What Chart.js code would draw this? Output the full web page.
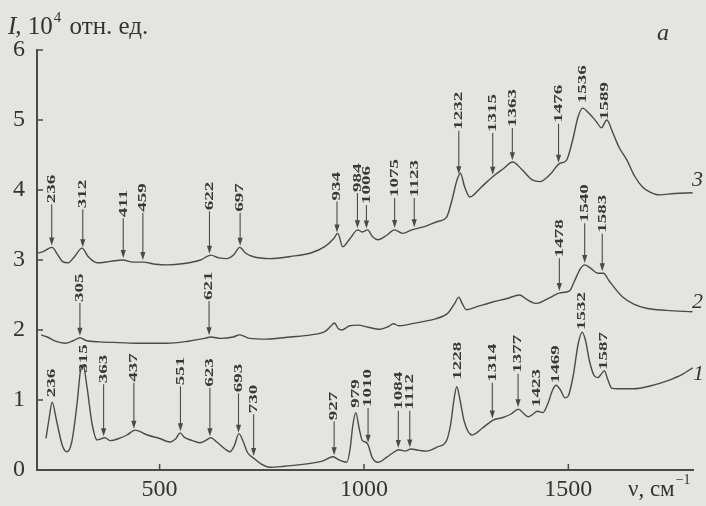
<!DOCTYPE html>
<html>
<head>
<meta charset="utf-8">
<script src="https://cdn.jsdelivr.net/npm/chart.js@4.4.1/dist/chart.umd.min.js"></script>
<style>
  html, body { margin: 0; padding: 0; background: #e4e4e2; }
  #wrap { width: 706px; height: 506px; position: relative; }
</style>
</head>
<body>
<div id="wrap"><canvas id="spectre"></canvas></div>
<script>
// curve 1
const nu1 = [222, 230, 237, 248, 262, 273, 285, 298, 306, 313, 322, 335, 347, 366, 380, 400, 420, 440, 470, 500,
  525, 540, 550, 560, 580, 598, 612, 625, 640, 660, 672, 683, 694, 705, 715, 730, 750, 770, 800, 850,
  900, 924, 940, 958, 966, 973, 980, 988, 996, 1004, 1010, 1020, 1034, 1055, 1072, 1085, 1100, 1115, 1135, 1153,
  1180, 1202, 1212, 1220, 1227, 1235, 1245, 1264, 1290, 1315, 1340, 1360, 1378, 1392, 1402, 1414, 1424, 1438, 1450, 1462,
  1470, 1480, 1492, 1500, 1512, 1524, 1534, 1542, 1552, 1563, 1572, 1582, 1588, 1596, 1606, 1620, 1660, 1700, 1740, 1780, 1804];
const int1 = [0.45, 0.75, 0.97, 0.7, 0.35, 0.26, 0.4, 0.95, 1.4, 1.5, 1.2, 0.65, 0.43, 0.46, 0.42, 0.45, 0.5, 0.57, 0.5, 0.45,
  0.4, 0.45, 0.53, 0.47, 0.42, 0.39, 0.42, 0.46, 0.4, 0.3, 0.26, 0.35, 0.52, 0.4, 0.25, 0.17, 0.08, 0.04, 0.05, 0.08,
  0.13, 0.19, 0.14, 0.11, 0.3, 0.65, 0.82, 0.6, 0.42, 0.4, 0.36, 0.18, 0.11, 0.18, 0.25, 0.29, 0.27, 0.3, 0.28, 0.27,
  0.33, 0.42, 0.65, 1.0, 1.19, 1.0, 0.7, 0.5, 0.6, 0.71, 0.75, 0.8, 0.87, 0.8, 0.76, 0.8, 0.84, 0.82, 0.95, 1.15,
  1.21, 1.15, 1.03, 1.06, 1.35, 1.8, 1.97, 1.85, 1.55, 1.35, 1.32, 1.38, 1.42, 1.3, 1.17, 1.16, 1.16, 1.2, 1.27, 1.37, 1.46];

// curve 2
const nu2 = [210, 225, 245, 268, 290, 305, 320, 354, 400, 450, 518, 570, 610, 625, 650, 680, 696, 720, 762, 820,
  870, 905, 918, 928, 937, 945, 965, 985, 1010, 1038, 1060, 1072, 1085, 1110, 1144, 1175, 1205, 1222, 1232, 1240,
  1251, 1280, 1315, 1350, 1381, 1400, 1422, 1454, 1479, 1503, 1515, 1530, 1540, 1555, 1572, 1586, 1600, 1633, 1660, 1691,
  1740, 1804];
const int2 = [1.93, 1.9, 1.84, 1.81, 1.85, 1.89, 1.85, 1.83, 1.82, 1.81, 1.81, 1.84, 1.88, 1.9, 1.88, 1.9, 1.93, 1.88, 1.87, 1.9,
  1.93, 1.98, 2.05, 2.1, 2.02, 2.0, 2.06, 2.07, 2.04, 2.01, 2.05, 2.09, 2.06, 2.08, 2.12, 2.16, 2.24, 2.38, 2.47, 2.38,
  2.29, 2.34, 2.4, 2.45, 2.5, 2.43, 2.38, 2.46, 2.53, 2.56, 2.7, 2.88, 2.93, 2.88, 2.81, 2.81, 2.7, 2.47, 2.37, 2.31,
  2.28, 2.26];

// curve 3
const nu3 = [203, 215, 237, 250, 262, 276, 292, 310, 325, 347, 380, 410, 435, 459, 490, 518, 560, 600, 625, 645,
  664, 682, 696, 710, 728, 770, 820, 870, 904, 925, 936, 948, 965, 985, 996, 1009, 1020, 1034, 1055, 1075,
  1095, 1117, 1150, 1180, 1202, 1215, 1228, 1236, 1246, 1259, 1285, 1315, 1340, 1364, 1385, 1413, 1430, 1455, 1479, 1495,
  1510, 1524, 1535, 1550, 1568, 1581, 1594, 1610, 1625, 1643, 1662, 1682, 1700, 1723, 1760, 1804];
const int3 = [3.1, 3.12, 3.18, 3.08, 2.98, 2.96, 3.05, 3.17, 3.05, 2.96, 2.98, 3.0, 2.97, 2.97, 2.94, 2.93, 2.95, 3.0, 3.07, 3.03,
  3.02, 3.08, 3.18, 3.1, 3.05, 3.02, 3.05, 3.1, 3.19, 3.3, 3.38, 3.19, 3.3, 3.43, 3.4, 3.43, 3.34, 3.29, 3.35, 3.43,
  3.38, 3.43, 3.48, 3.55, 3.61, 3.85, 4.15, 4.24, 4.05, 3.9, 4.03, 4.19, 4.3, 4.4, 4.3, 4.14, 4.12, 4.22, 4.38, 4.42,
  4.7, 5.05, 5.17, 5.1, 4.98, 4.89, 5.0, 4.8, 4.6, 4.43, 4.2, 4.04, 3.97, 3.93, 3.95, 3.96];

// peak marks: wavenumber, label bottom (intensity), arrow or not
const peaks1 = [236, 315, 363, 437, 551, 623, 693, 730, 927, 979, 1010, 1084, 1112, 1228, 1314, 1377, 1423, 1469, 1532, 1587];
const base1 = [1.04, 1.39, 1.24, 1.26, 1.21, 1.19, 1.11, 0.81, 0.71, 0.89, 0.9, 0.86, 0.86, 1.29, 1.26, 1.39, 0.9, 1.24, 2.0, 1.43];
const arrow1 = [0, 0, 1, 1, 1, 1, 1, 1, 1, 0, 1, 1, 1, 0, 1, 1, 0, 0, 0, 0];

const peaks2 = [305, 621, 1478, 1540, 1583];
const base2 = [2.4, 2.43, 3.04, 3.54, 3.39];
const arrow2 = [1, 1, 1, 1, 1];

const peaks3 = [236, 312, 411, 459, 622, 697, 934, 984, 1006, 1075, 1123, 1232, 1315, 1363, 1476, 1536, 1589];
const base3 = [3.81, 3.74, 3.61, 3.69, 3.71, 3.69, 3.85, 3.97, 3.8, 3.9, 3.9, 4.86, 4.83, 4.9, 4.96, 5.24, 5.0];
const arrow3 = [1, 1, 1, 1, 1, 1, 1, 1, 1, 1, 1, 1, 1, 1, 1, 0, 0];

const yTicks = [0, 1, 2, 3, 4, 5, 6];
const xTicks = [500, 1000, 1500];

const ink = '#4a4a4a';
const serif = "'Liberation Serif', 'DejaVu Serif', serif";

function pts(nu, val) {
  return nu.map((v, i) => ({ x: v, y: val[i] }));
}

function interp(nu, val, x) {
  for (let i = 1; i < nu.length; i++) {
    if (x <= nu[i]) {
      const t = (x - nu[i - 1]) / (nu[i] - nu[i - 1]);
      return val[i - 1] + t * (val[i] - val[i - 1]);
    }
  }
  return val[val.length - 1];
}

const marks = [
  { nu: nu1, val: int1, peaks: peaks1, base: base1, arrow: arrow1 },
  { nu: nu2, val: int2, peaks: peaks2, base: base2, arrow: arrow2 },
  { nu: nu3, val: int3, peaks: peaks3, base: base3, arrow: arrow3 },
];

const decor = {
  id: 'decor',
  beforeDraw(chart) {
    const c = chart.ctx;
    c.save();
    c.fillStyle = '#e4e4e2';
    c.fillRect(0, 0, chart.width, chart.height);
    c.restore();
  },
  afterDraw(chart) {
    const c = chart.ctx;
    const xs = chart.scales.x, ys = chart.scales.y;
    const area = chart.chartArea;
    c.save();
    c.strokeStyle = ink;
    c.fillStyle = ink;

    // inner ticks
    c.lineWidth = 1.5;
    yTicks.forEach(v => {
      const py = ys.getPixelForValue(v);
      c.beginPath(); c.moveTo(area.left, py); c.lineTo(area.left + 6, py); c.stroke();
    });
    xTicks.forEach(v => {
      const px = xs.getPixelForValue(v);
      c.beginPath(); c.moveTo(px, area.bottom); c.lineTo(px, area.bottom - 6); c.stroke();
    });

    // peak labels and arrows
    marks.forEach(m => {
      m.peaks.forEach((p, i) => {
        const px = xs.getPixelForValue(p);
        const pb = ys.getPixelForValue(m.base[i]);
        if (m.arrow[i]) {
          const tip = ys.getPixelForValue(interp(m.nu, m.val, p)) - 2;
          c.lineWidth = 1.1;
          c.beginPath(); c.moveTo(px, pb + 1); c.lineTo(px, tip - 6); c.stroke();
          c.beginPath();
          c.moveTo(px, tip); c.lineTo(px - 2.6, tip - 8); c.lineTo(px + 2.6, tip - 8);
          c.closePath(); c.fill();
        }
        c.save();
        c.translate(px, pb);
        c.rotate(-Math.PI / 2);
        c.scale(1, 0.68);
        c.font = 'bold 19px ' + serif;
        c.textAlign = 'left';
        c.textBaseline = 'middle';
        c.fillStyle = '#383838';
        c.fillText(String(p), 0, 0);
        c.restore();
      });
    });

    // axis title
    c.fillStyle = '#333';
    c.textBaseline = 'alphabetic';
    c.textAlign = 'left';
    let tx = 8;
    c.font = 'italic 25px ' + serif;
    c.fillText('I', tx, 34); tx += c.measureText('I').width;
    c.font = '25px ' + serif;
    c.fillText(', 10', tx - 1, 34); tx += c.measureText(', 10').width - 1;
    c.font = '15px ' + serif;
    c.fillText('4', tx + 1, 22); tx += c.measureText('4').width + 3;
    c.font = '25px ' + serif;
    c.fillText(' отн. ед.', tx, 34);

    // x title
    c.font = '23px ' + serif;
    c.fillText('ν, см', 628, 496);
    const w = c.measureText('ν, см').width;
    c.font = '14px ' + serif;
    c.fillText('−1', 628 + w + 1, 484);

    // panel letter and curve numbers
    c.font = 'italic 24px ' + serif;
    c.fillText('a', 657, 40);
    c.font = 'italic 22px ' + serif;
    c.fillText('3', 692, 186);
    c.fillText('2', 692, 308);
    c.fillText('1', 693, 380);
    c.restore();
  }
};

const lineStyle = {
  borderColor: ink,
  borderWidth: 1.4,
  pointRadius: 0,
  fill: false,
  cubicInterpolationMode: 'monotone',
};

new Chart(document.getElementById('spectre'), {
  type: 'line',
  data: {
    datasets: [
      { label: '1', data: pts(nu1, int1), ...lineStyle },
      { label: '2', data: pts(nu2, int2), ...lineStyle },
      { label: '3', data: pts(nu3, int3), ...lineStyle },
    ],
  },
  options: {
    responsive: true,
    maintainAspectRatio: false,
    animation: false,
    layout: { padding: { top: 50, right: 13, left: 0, bottom: 0 } },
    plugins: { legend: { display: false }, tooltip: { enabled: false } },
    scales: {
      x: {
        type: 'linear',
        min: 200,
        max: 1805,
        afterFit(s) { s.height = 36; },
        afterBuildTicks(s) { s.ticks = xTicks.map(v => ({ value: v })); },
        grid: { display: false, drawTicks: false },
        border: { display: true, color: ink, width: 2 },
        ticks: { font: { family: serif, size: 24 }, color: '#333', padding: 5, maxRotation: 0, callback: v => String(v) },
      },
      y: {
        min: 0,
        max: 6,
        afterFit(s) { s.width = 37; },
        afterBuildTicks(s) { s.ticks = yTicks.map(v => ({ value: v })); },
        grid: { display: false, drawTicks: false },
        border: { display: true, color: ink, width: 2 },
        ticks: { font: { family: serif, size: 24 }, color: '#333', padding: 12, callback: v => String(v) },
      },
    },
  },
  plugins: [decor],
});
</script>
</body>
</html>
